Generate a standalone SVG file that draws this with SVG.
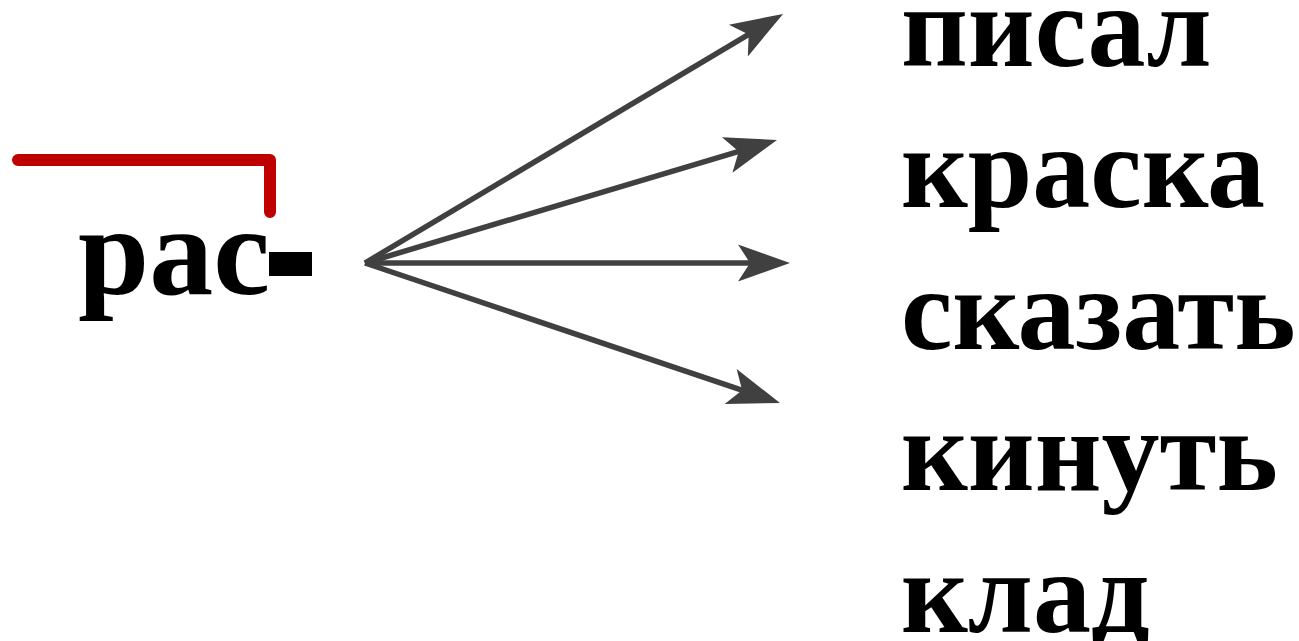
<svg xmlns="http://www.w3.org/2000/svg" width="1299" height="641" viewBox="0 0 1299 641">
<defs>
<style>
.w{font-family:"Liberation Serif","Times New Roman",serif;font-weight:bold;font-size:116px;fill:#000}
.p{font-family:"Liberation Serif","Times New Roman",serif;font-weight:bold;font-size:128px;fill:#000}
.a{stroke:#404040;stroke-width:5.5;fill:none;marker-end:url(#ah)}
</style>
<marker id="ah" markerUnits="userSpaceOnUse" markerWidth="60" markerHeight="40" viewBox="0 -20 60 40" refX="14" refY="0" orient="auto">
<path d="M0,-18.5 L52,0 L0,18.5 L12,0 Z" fill="#404040"/>
</marker>
</defs>
<rect width="1299" height="641" fill="#fff"/>
<g id="prefix">
<path d="M18,160 H270 V212" stroke="#c00000" stroke-width="12" fill="none" stroke-linecap="round" stroke-linejoin="round"/>
<text class="p" x="78" y="294">рас</text>
<rect x="269" y="252" width="43" height="24" fill="#000"/>
</g>
<g id="connectors">
<line class="a" x1="365" y1="263" x2="750.4" y2="33.4"/>
<line class="a" x1="365" y1="263" x2="740.6" y2="150.9"/>
<line class="a" x1="365" y1="263" x2="752" y2="263"/>
<line class="a" x1="365" y1="263" x2="744" y2="390.9"/>
</g>
<g id="w1"><text class="w" x="901" y="66">писал</text></g>
<g id="w2"><text class="w" x="901" y="207">краска</text></g>
<g id="w3"><text class="w" x="901" y="349">сказать</text></g>
<g id="w4"><text class="w" x="901" y="490">кинуть</text></g>
<g id="w5"><text class="w" x="901" y="632">клад</text></g>
</svg>
